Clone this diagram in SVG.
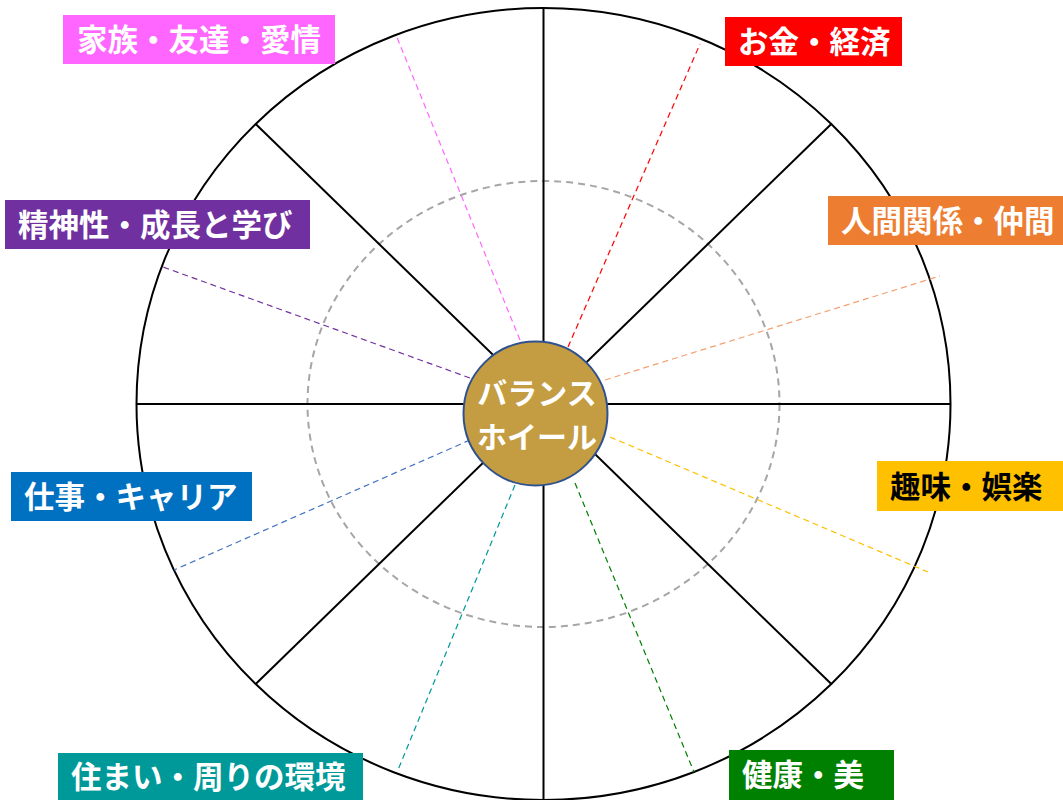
<svg xmlns="http://www.w3.org/2000/svg" width="1063" height="800" viewBox="0 0 1063 800">
<defs>
<style>
.wheel{fill:none;stroke:#000;stroke-width:2}
.spoke{stroke:#000;stroke-width:2}
.inner{fill:none;stroke:#A6A6A6;stroke-width:2;stroke-dasharray:7 5}
.dash{stroke-width:1.2;stroke-dasharray:6 4;fill:none}
.lbl{font-family:"Noto Sans CJK JP","Noto Sans",sans-serif;font-size:30.5px;font-weight:bold;fill:#fff}
.ctr{font-family:"Noto Sans CJK JP","Noto Sans",sans-serif;font-size:30px;font-weight:bold;fill:#fff;text-anchor:middle}
</style>
</defs>
<rect width="1063" height="800" fill="#fff"/>
<g id="wheel">
<ellipse class="wheel" cx="543.5" cy="404" rx="407" ry="396"/>
<ellipse class="inner" cx="543.5" cy="404" rx="236" ry="223"/>
</g>
<g id="connectors">
<line class="spoke" x1="543.5" y1="8" x2="543.5" y2="800"/>
<line class="spoke" x1="136.5" y1="404" x2="950.5" y2="404"/>
<line class="spoke" x1="255.7" y1="124" x2="831.3" y2="684"/>
<line class="spoke" x1="831.3" y1="124" x2="255.7" y2="684"/>
<line class="dash" stroke="#FF66FF" x1="520" y1="340" x2="396" y2="35"/>
<line class="dash" stroke="#FF0000" x1="568" y1="347" x2="700" y2="44"/>
<line class="dash" stroke="#F4A070" x1="605" y1="380" x2="940" y2="276"/>
<line class="dash" stroke="#FFC000" x1="610" y1="437" x2="928" y2="572"/>
<line class="dash" stroke="#008000" x1="575" y1="483" x2="694" y2="772"/>
<line class="dash" stroke="#009999" x1="515" y1="485" x2="398" y2="770"/>
<line class="dash" stroke="#4472C4" x1="470" y1="440" x2="174" y2="570"/>
<line class="dash" stroke="#7030A0" x1="470" y1="378" x2="163" y2="267"/>
</g>
<g id="center">
<circle cx="535.5" cy="413.5" r="72" fill="#C49C41" stroke="#2F528F" stroke-width="2"/>
<text class="ctr"><tspan x="537" y="404">バランス</tspan><tspan x="537" y="448">ホイール</tspan></text>
</g>
<g id="family"><rect x="63" y="15" width="272" height="49" fill="#FF66FF"/><text class="lbl" x="77" y="51">家族・友達・愛情</text></g>
<g id="money"><rect x="725" y="17" width="177" height="49" fill="#FF0000"/><text class="lbl" x="738" y="53">お金・経済</text></g>
<g id="spirit"><rect x="5" y="200" width="305" height="49" fill="#7030A0"/><text class="lbl" x="18" y="236">精神性・成長と学び</text></g>
<g id="relation"><rect x="828" y="196" width="235" height="49" fill="#ED7D31"/><text class="lbl" x="841" y="232">人間関係・仲間</text></g>
<g id="hobby"><rect x="877" y="461" width="186" height="50" fill="#FFC000"/><text class="lbl" x="890" y="498" style="fill:#000">趣味・娯楽</text></g>
<g id="work"><rect x="11" y="472" width="241" height="49" fill="#0070C0"/><text class="lbl" x="24" y="508">仕事・キャリア</text></g>
<g id="home"><rect x="58" y="753" width="305" height="47" fill="#009999"/><text class="lbl" x="71" y="788">住まい・周りの環境</text></g>
<g id="health"><rect x="729" y="750" width="165" height="50" fill="#008000"/><text class="lbl" x="742" y="786">健康・美</text></g>
</svg>
